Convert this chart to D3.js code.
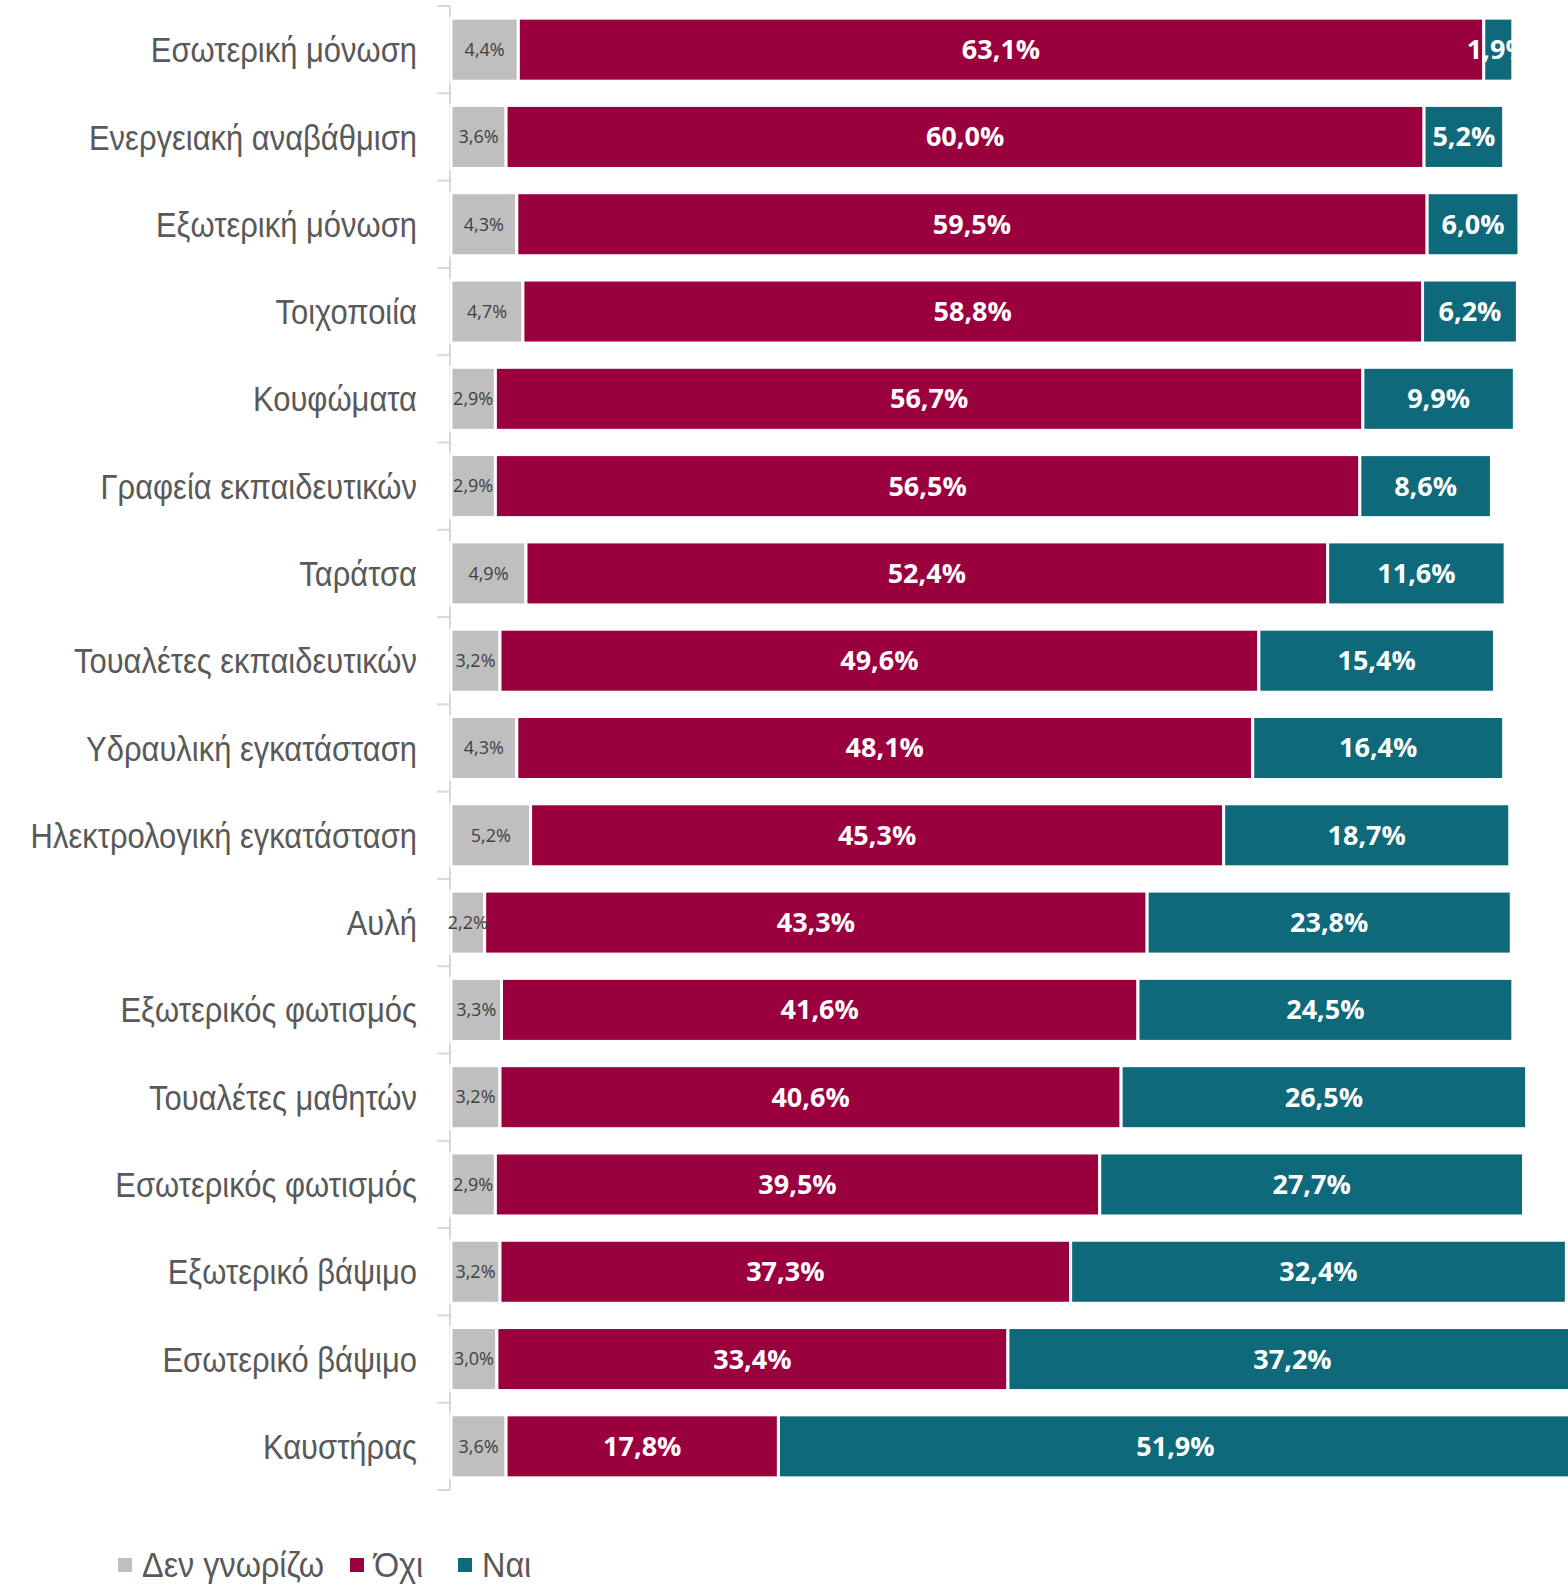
<!DOCTYPE html>
<html><head><meta charset="utf-8">
<script src="https://cdn.jsdelivr.net/npm/d3@7"></script>
<style>body{margin:0;background:#fff}svg{display:block}</style>
</head><body>
<svg id="c" width="1568" height="1584"></svg>
<script>
const categories = ["Εσωτερική μόνωση","Ενεργειακή αναβάθμιση","Εξωτερική μόνωση","Τοιχοποιία","Κουφώματα","Γραφεία εκπαιδευτικών","Ταράτσα","Τουαλέτες εκπαιδευτικών","Υδραυλική εγκατάσταση","Ηλεκτρολογική εγκατάσταση","Αυλή","Εξωτερικός φωτισμός","Τουαλέτες μαθητών","Εσωτερικός φωτισμός","Εξωτερικό βάψιμο","Εσωτερικό βάψιμο","Καυστήρας"];
const dontKnow = [4.4,3.6,4.3,4.7,2.9,2.9,4.9,3.2,4.3,5.2,2.2,3.3,3.2,2.9,3.2,3.0,3.6];
const no = [63.1,60.0,59.5,58.8,56.7,56.5,52.4,49.6,48.1,45.3,43.3,41.6,40.6,39.5,37.3,33.4,17.8];
const yes = [1.9,5.2,6.0,6.2,9.9,8.6,11.6,15.4,16.4,18.7,23.8,24.5,26.5,27.7,32.4,37.2,51.9];
const seriesNames = ["Δεν γνωρίζω","Όχι","Ναι"];
const seriesColors = ["#bfbfbf","#9b003e","#0e6a7b"];

const svg = d3.select("#c");
const x = d3.scaleLinear().domain([0,100]).range([451,1981]);
const y = d3.scaleBand().domain(categories).range([6,1490]).paddingInner(0.278).paddingOuter(0.139);

const rows = categories.map((c,i)=>({cat:c, "Δεν γνωρίζω":dontKnow[i], "Όχι":no[i], "Ναι":yes[i]}));
const stack = d3.stack().keys(seriesNames)(rows);
const fmt = v => d3.format(".1f")(v).replace(".",",")+"%";
const narrow = "'Liberation Sans Narrow','Arial Narrow','Liberation Sans',Arial,sans-serif";

// axis
const step = y.step();
const axisG = svg.append("g");
axisG.append("line").attr("x1",450).attr("x2",450).attr("y1",6).attr("y2",1490).attr("stroke","#d9d9d9").attr("stroke-width",2);
d3.range(categories.length+1).forEach(i=>{
  axisG.append("line").attr("x1",437).attr("x2",450).attr("y1",6+i*step).attr("y2",6+i*step).attr("stroke","#d9d9d9").attr("stroke-width",2);
});
svg.append("g").selectAll("text").data(categories).join("text")
  .attr("transform",d=>`translate(417,${y(d)+y.bandwidth()/2}) scale(0.86,1)`)
  .attr("dy","0.35em")
  .attr("text-anchor","end").attr("fill","#595959")
  .style("font-family",narrow).style("font-size","36px")
  .text(d=>d);

stack.forEach((s,si)=>{
  const g = svg.append("g");
  g.selectAll("rect").data(s).join("rect")
    .attr("x",d=>x(d[0])).attr("width",d=>x(d[1])-x(d[0]))
    .attr("y",d=>y(d.data.cat)).attr("height",y.bandwidth())
    .attr("fill",seriesColors[si]).attr("stroke","#fff").attr("stroke-width",3);
});
stack.forEach((s,si)=>{
  svg.append("g").selectAll("text").data(s).join("text")
    .attr("x",d=>(x(d[0])+x(d[1]))/2).attr("y",d=>y(d.data.cat)+y.bandwidth()/2).attr("dy","0.35em")
    .attr("text-anchor","middle")
    .attr("fill", si===0 ? "#404040" : "#ffffff")
    .style("font-family","'Open Sans',sans-serif")
    .style("font-weight", si===0 ? 400 : 700)
    .style("font-size", si===0 ? "18px" : "27px")
    .text(d=>fmt(d[1]-d[0]));
});

// legend
const legX = [118,350,458];
const leg = svg.append("g");
seriesNames.forEach((n,i)=>{
  leg.append("rect").attr("x",legX[i]).attr("y",1558).attr("width",14).attr("height",14).attr("fill",seriesColors[i]);
  leg.append("text").attr("transform",`translate(${legX[i]+24},1564) scale(0.9,1)`).attr("dy","0.35em").attr("fill","#595959")
    .style("font-family",narrow).style("font-size","36px").text(n);
});
</script>
</body></html>
